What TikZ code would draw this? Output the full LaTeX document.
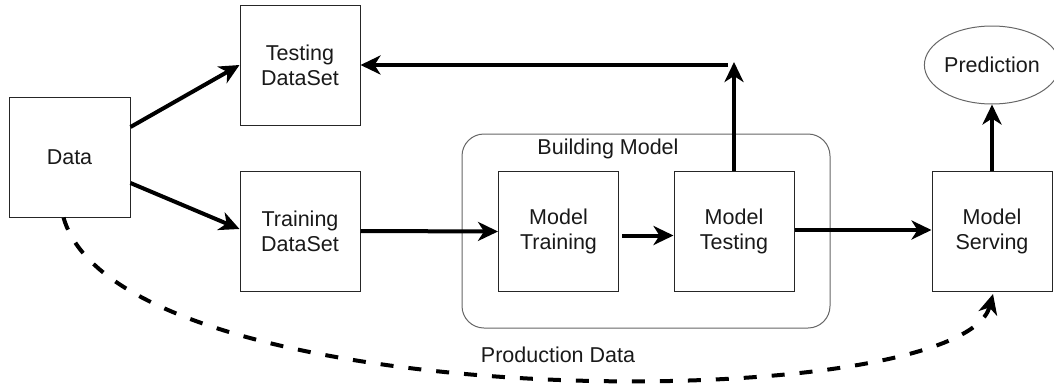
\documentclass[tikz,border=0pt]{standalone}
\usepackage{fontspec}
\setmainfont{Liberation Sans}
\usetikzlibrary{arrows.meta,shapes.geometric}
\begin{document}
\begin{tikzpicture}[x=1pt,y=-1pt,
  every node/.style={font=\fontsize{21.5}{25}\selectfont, align=center, text=black!90},
  box/.style={draw=black!85, line width=1pt, minimum width=120pt, minimum height=120pt, inner sep=0pt},
  arr/.style={line width=4pt, -{Stealth[length=20pt,width=19pt,inset=6pt]}},
  dsh/.style={line width=4pt, dash pattern=on 13pt off 15pt, -{Stealth[length=20pt,width=19pt,inset=6pt]}}
]
\useasboundingbox (0,0) rectangle (1054,383);
% container
\node[draw=black!60, line width=1pt, rounded corners=22pt, minimum width=368pt, minimum height=194pt, inner sep=0pt] (bm) at (646,231) {};
\node (bmlabel) at (608,149) {Building Model};
% boxes
\node[box, minimum width=121pt] (data) at (69.5,157) {Data};
\node[box] (testing) at (300,65) {Testing\\DataSet};
\node[box] (training) at (300,231) {Training\\DataSet};
\node[box] (mtrain) at (558.5,231.5) {Model\\Training};
\node[box] (mtest) at (734,231.5) {Model\\Testing};
\node[box] (serving) at (992,231.5) {Model\\Serving};
\node[draw=black!60, line width=1pt, ellipse, minimum width=120pt, minimum height=78pt, inner sep=0pt] (pred) at (992,65) {Prediction};
% helper coordinates
\coordinate (uptip) at (734,62);
\coordinate (hstart) at (728,65);
% connectors
\draw[arr] ([yshift=30pt]data.east) -- (testing.west);
\draw[arr] ([yshift=-26pt]data.east) -- ([yshift=2pt]training.west);
\draw[arr] (training.east) -- (mtrain.west);
\draw[arr] ([xshift=3pt,yshift=-4pt]mtrain.east) -- ([yshift=-4pt]mtest.west);
\draw[arr] ([yshift=1.5pt]mtest.east) -- ([yshift=1.5pt]serving.west);
\draw[arr] (mtest.north) -- (uptip);
\draw[arr] (hstart) -- (testing.east);
\draw[arr] (serving.north) -- (pred.south);
\draw[dsh] ([xshift=-6pt]data.south) .. controls (120,418) and (960,418) .. ([xshift=1pt,yshift=-2pt]serving.south);
\node (prod) at (558,355) {Production Data};
\end{tikzpicture}
\end{document}
